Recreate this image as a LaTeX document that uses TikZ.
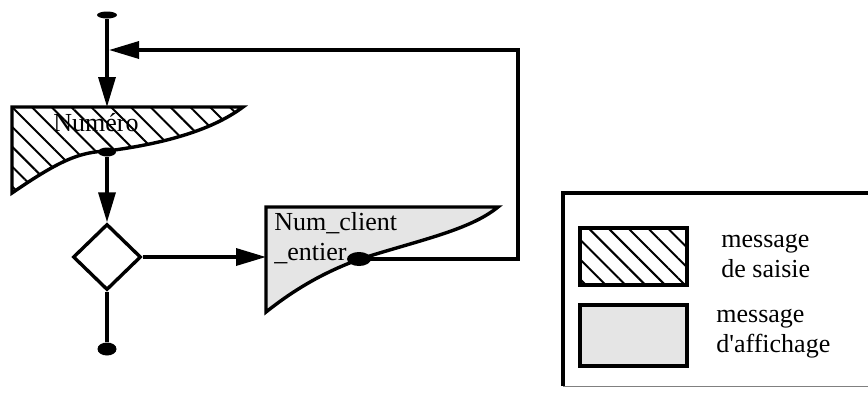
\documentclass[tikz,border=0pt]{standalone}
\usepackage{fontspec}
\setmainfont{Liberation Serif}
\usetikzlibrary{arrows.meta,positioning,shapes.geometric,patterns.meta}

\begin{document}
\begin{tikzpicture}[x=0.5pt,y=-0.5pt,
  trait/.style={line width=1.7pt},
  fleche/.style={trait,-{Triangle[length=15pt,width=8.5pt]}},
  hachure/.style={pattern={Lines[angle=-45,distance=7pt,line width=1pt]}},
  grise/.style={fill=black!10},
  point/.style={ellipse,fill=black,inner sep=0pt},
  texte/.style={font=\fontsize{13}{15}\selectfont,inner sep=0pt}]
  \useasboundingbox (0,0) rectangle (868,392);

  % messages
  \draw[trait,hachure] (12,107) -- (243,107)
    .. controls (215,128) and (170,143) .. (107,151)
    .. controls (80,152) and (60,160) .. (12,193) -- cycle;
  \node[texte] (numero) at (96,123) {Numéro};

  \draw[trait,grise] (266,207) -- (498,207)
    .. controls (470,230) and (420,240) .. (360,259)
    .. controls (330,270) and (300,285) .. (266,312) -- cycle;
  \node[texte,anchor=north west,align=left] (numclient) at (274,212) {Num\_client\\\_entier};

  % noeuds
  \node[point,minimum width=10pt,minimum height=3.5pt] (debut) at (107,15) {};
  \node[point,minimum width=9pt,minimum height=4.5pt] (numdot) at (107,152) {};
  \node[point,minimum width=12pt,minimum height=7pt] (clientdot) at (359,259) {};
  \node[point,minimum width=9.5pt,minimum height=6.5pt] (fin) at (107,349) {};
  \node[draw,trait,diamond,fill=white,minimum width=34pt,minimum height=33pt,inner sep=0pt] (choix) at (107,257) {};

  \coordinate (retour) at (109,50);
  \coordinate (numhaut) at (107,107);
  \coordinate (clientgauche) at (266,257);
  \coordinate (coin) at (518,50);

  % liaisons
  \draw[fleche] (debut) -- (numhaut);
  \draw[fleche] (numdot) -- (choix.north);
  \draw[trait] (choix.south) -- (fin);
  \draw[fleche] (choix.east) -- (clientgauche);
  \draw[fleche] (clientdot.center) -| (coin) -- (retour);

  % legende
  \draw[trait] (563,386) -- (563,193) -- (880,193);
  \draw[gray,thin] (563,386) -- (880,386);
  \draw[trait,hachure] (580,228) rectangle (687,285);
  \node[texte,anchor=west,align=left] (saisie) at (721,256) {message\\de saisie};
  \draw[trait,grise] (580,305) rectangle (687,366);
  \node[texte,anchor=west,align=left] (affichage) at (716,334) {message\\d\textquotesingle affichage};
\end{tikzpicture}
\end{document}
